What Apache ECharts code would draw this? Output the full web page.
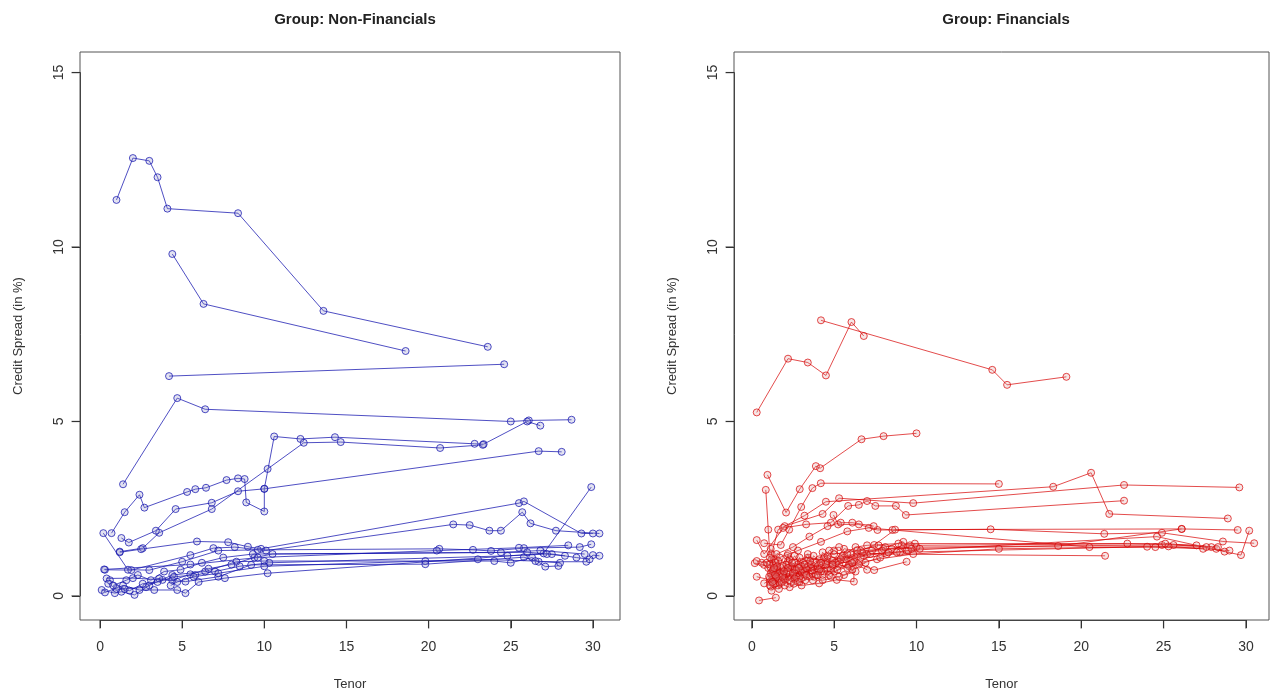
<!DOCTYPE html>
<html>
<head>
<meta charset="utf-8">
<script src="https://cdn.jsdelivr.net/npm/echarts@6/dist/echarts.min.js"></script>
<style>
  html, body { margin: 0; padding: 0; background: #fff; }
  #chart { width: 1270px; height: 692px; }
</style>
</head>
<body>
<div id="chart"></div>
<script>
// tick labels
var tenorTicks = [0, 5, 10, 15, 20, 25, 30];
var spreadTicks = [0, 5, 10, 15];

// Non-Financials, each bond curve as [tenor, spread]
var nf1 = [[1.0,11.35],[2.0,12.55],[3.0,12.47],[3.5,12.0],[4.1,11.1],[8.4,10.97],[13.6,8.17],[23.6,7.14]];
var nf2 = [[4.4,9.8],[6.3,8.37],[18.6,7.02]];
var nf3 = [[4.2,6.3],[24.6,6.64]];
var nf4 = [[1.4,3.2],[4.7,5.67],[6.4,5.35],[25.0,5.0],[26.1,5.03],[28.7,5.05]];
var nf5 = [[0.7,1.8],[1.5,2.4],[2.4,2.9],[2.7,2.53],[5.3,2.98],[5.8,3.06],[6.45,3.1],[7.7,3.32],[8.4,3.37],[8.8,3.35],[8.9,2.68],[10.0,2.42],[10.0,3.07],[10.6,4.57],[12.2,4.5],[14.3,4.55],[22.8,4.36],[23.35,4.35],[26.0,5.0],[26.8,4.88]];
var nf6 = [[1.2,1.27],[2.6,1.37],[3.6,1.81],[6.8,2.49],[10.2,3.64],[12.4,4.39],[14.65,4.41],[20.7,4.24],[23.3,4.33]];
var nf7 = [[1.3,1.66],[1.75,1.53],[3.4,1.87],[4.6,2.49],[6.8,2.67],[8.4,3.0],[10.0,3.07],[26.7,4.15],[28.1,4.13]];
var nf8 = [[1.2,1.25],[2.5,1.34],[5.9,1.56],[7.8,1.54],[9.0,1.41],[9.8,1.35],[25.5,2.66],[25.8,2.71],[29.3,1.79],[30.0,1.79]];
var nf9 = [[0.3,0.75],[1.9,0.74],[5.5,1.17],[6.9,1.37],[8.2,1.4],[10.1,1.3],[21.5,2.05],[22.5,2.03],[23.7,1.87],[24.4,1.87],[25.7,2.4],[26.2,2.08],[27.75,1.87],[30.4,1.79]];
var nf10 = [[0.2,1.8],[1.7,0.75],[3.0,0.74],[5.0,0.98],[7.2,1.3],[9.6,1.32],[20.65,1.35],[22.7,1.32],[23.8,1.29],[25.8,1.37],[29.2,1.4],[29.9,1.48]];
var nf11 = [[0.1,0.17],[0.9,0.08],[1.3,0.12],[2.1,0.03],[3.0,0.3],[4.4,0.6],[6.4,0.7],[8.3,0.98],[10.0,1.0],[19.8,1.0],[24.0,1.0],[25.0,0.95],[26.3,1.1],[27.1,0.84],[27.9,0.86]];
var nf12 = [[0.4,0.5],[2.0,0.51],[3.8,0.46],[5.2,0.41],[7.2,0.55],[9.2,0.89],[19.8,0.91],[25.8,1.11],[26.7,0.98],[29.6,0.98],[30.0,1.17],[30.4,1.15]];
var nf13 = [[0.3,0.1],[1.4,0.3],[2.4,0.17],[3.3,0.17],[4.7,0.17],[5.2,0.08],[6.0,0.4],[7.6,0.51],[10.2,0.65],[27.0,1.22],[29.9,3.12]];
var nf14 = [[0.6,0.45],[1.5,0.2],[2.8,0.25],[3.6,0.5],[4.4,0.45],[5.5,0.62],[6.6,0.78],[8.0,0.9],[9.4,1.1],[10.5,1.2],[26.0,1.25],[27.5,1.2],[29.0,1.1],[29.8,1.05]];
var nf15 = [[0.25,0.76],[5.5,0.9],[9.6,1.1],[20.5,1.3],[25.5,1.38],[28.5,1.45]];
var nf16 = [[0.5,0.35],[1.0,0.2],[1.8,0.15],[2.6,0.35],[3.5,0.4],[4.5,0.55],[5.8,0.6],[7.0,0.7],[8.5,0.85],[10.3,0.95],[24.8,1.15],[27.2,1.2],[28.3,1.15]];
var nf17 = [[4.3,0.3],[4.7,0.4],[5.7,0.55],[7.2,0.65],[10.0,0.85],[23.0,1.05],[26.5,1.0],[28.0,0.95]];
var nf18 = [[0.8,0.3],[1.6,0.45],[2.3,0.6],[3.1,0.45],[3.9,0.7],[4.9,0.75],[6.2,0.95],[7.5,1.1],[9.3,1.2],[24.4,1.25],[26.8,1.3],[29.5,1.2]];

// Financials
var fi1 = [[0.3,5.26],[2.2,6.8],[3.4,6.69],[4.5,6.32],[6.05,7.85],[6.8,7.45]];
var fi2 = [[4.2,7.9],[14.6,6.48],[15.5,6.05],[19.1,6.28]];
var fi3 = [[0.95,3.47],[2.08,2.39],[2.91,3.06],[3.89,3.72],[4.15,3.66],[6.66,4.49],[8.0,4.58],[10.0,4.66]];
var fi4 = [[0.75,1.51],[1.76,1.46],[2.27,1.9],[3.0,2.55],[3.68,3.09],[4.19,3.23],[15.0,3.21]];
var fi5 = [[0.85,3.04],[1.0,1.9],[1.15,0.8],[1.6,0.7],[2.2,0.55],[3.0,0.7],[4.3,0.6]];
var fi6 = [[1.2,1.2],[1.6,1.9],[3.2,2.3],[4.5,2.7],[18.3,3.13],[20.6,3.53],[21.7,2.35],[28.9,2.22]];
var fi7 = [[0.3,1.6],[0.75,1.2],[2.0,2.0],[4.3,2.35],[5.3,2.8],[9.8,2.66],[22.6,3.18],[29.6,3.11]];
var fi8 = [[1.9,1.95],[3.3,2.05],[4.8,2.1],[5.85,2.58],[6.5,2.61],[7.0,2.72],[7.5,2.58],[8.75,2.58],[9.35,2.32],[22.6,2.73]];
var fi9 = [[4.96,2.32],[5.24,2.05],[6.5,2.05],[7.63,1.89],[8.54,1.89],[14.5,1.91],[21.4,1.78],[24.9,1.81],[28.6,1.56],[30.5,1.51]];
var fi10 = [[0.18,0.94],[0.75,0.89],[1.3,0.6],[2.5,0.8],[4.1,0.9],[5.2,1.0],[7.43,1.46],[8.7,1.9],[26.1,1.92],[29.5,1.89]];
var fi11 = [[0.3,0.55],[1.2,0.45],[3.0,0.7],[4.9,0.85],[6.8,1.15],[9.4,1.3],[24.6,1.7],[29.7,1.17],[30.2,1.87]];
var fi12 = [[0.75,0.36],[1.3,0.5],[2.5,0.6],[3.8,0.75],[6.0,1.0],[8.2,1.2],[21.45,1.15]];
var fi13 = [[0.44,-0.13],[1.46,-0.05]];
var fi14 = [[1.15,0.27],[2.0,0.5],[3.02,0.3],[4.09,0.36],[5.16,0.46],[6.2,0.41],[6.2,0.98],[7.43,0.74],[9.4,0.98]];
var fi15 = [[1.2,0.6],[1.8,0.8],[2.8,0.9],[3.6,0.8],[4.5,0.95],[5.6,1.1],[7.0,1.2],[9.0,1.25],[24.0,1.41],[24.5,1.4],[27.4,1.35]];
var fi16 = [[1.3,0.9],[2.2,1.0],[3.4,1.1],[4.6,1.0],[6.4,1.2],[8.0,1.35],[10.0,1.4],[24.9,1.46],[25.6,1.46],[27.9,1.4],[28.2,1.35],[28.7,1.27]];
var fi17 = [[1.1,0.4],[1.6,0.5],[2.4,0.85],[3.3,1.0],[5.0,1.2],[6.6,1.3],[8.5,1.35],[18.6,1.43],[26.1,1.92]];
var fi18 = [[1.25,0.7],[2.6,0.75],[4.6,0.8],[5.9,0.9],[7.6,1.05],[9.8,1.2],[15.0,1.35],[25.3,1.42],[29.0,1.3]];
var fi19 = [[0.6,0.95],[1.4,1.05],[2.8,1.3],[4.2,1.55],[5.8,1.85],[7.1,1.95],[20.5,1.4],[27.6,1.4]];
var fi20 = [[1.6,0.3],[2.1,0.65],[2.9,0.55],[3.7,0.65],[4.8,0.75],[5.6,0.6],[6.9,0.95]];
var fi21 = [[1.0,0.8],[1.5,1.2],[2.5,1.4],[3.5,1.7],[4.6,2.0],[5.4,2.1],[6.1,2.1],[7.4,2.0]];
var fi22 = [[1.1,0.5],[1.4,0.35],[2.0,0.45],[2.7,0.55],[3.2,0.6],[4.4,0.7],[5.0,0.7],[5.9,0.85],[6.5,0.9],[7.8,1.1],[8.8,1.25],[9.5,1.3],[10.2,1.35]];
var fi23 = [[1.2,0.15],[1.7,0.35],[2.3,0.25],[2.9,0.4],[3.8,0.55],[4.3,0.45],[5.3,0.55],[6.3,0.7]];
var fi24 = [[0.3,1.0],[0.9,0.95],[1.5,0.75],[2.2,0.7],[3.4,0.85],[4.5,0.9],[5.7,1.05],[7.2,1.2],[8.3,1.25],[9.1,1.45],[9.9,1.5]];
var fi25 = [[1.3,0.35],[1.9,0.6],[2.4,0.4],[3.1,0.75],[3.5,0.55],[4.0,0.85],[4.7,0.6],[5.3,0.9],[6.1,0.75]];
var fi26 = [[1.1,0.9],[1.7,0.65],[2.6,0.95],[3.3,0.8],[4.1,1.05],[5.1,0.95],[6.7,1.25],[7.9,1.3],[9.6,1.45],[25.1,1.5],[28.3,1.4]];
var fi27 = [[1.2,1.05],[1.5,0.55],[1.9,0.85],[2.3,0.45],[2.7,0.75],[3.0,0.5],[3.6,0.9],[4.2,0.7],[4.9,1.0],[5.8,0.8],[6.6,1.1],[7.3,1.3],[8.1,1.4],[9.2,1.55]];
var fi28 = [[1.15,0.65],[1.45,0.95],[1.8,0.4],[2.1,0.9],[2.5,0.65],[2.9,1.1],[3.3,0.6],[3.9,0.95],[4.4,1.1],[5.0,1.3],[5.5,1.15],[6.3,1.4],[7.0,1.45],[8.9,1.5],[22.8,1.5],[27.0,1.45]];
var fi29 = [[1.1,0.3],[1.3,0.75],[1.6,1.0],[2.0,0.3],[2.3,1.05],[2.6,0.5],[3.1,0.95],[3.7,0.45],[4.1,0.75],[4.8,0.55],[5.2,0.75],[6.1,0.95],[7.0,0.75]];
var fi30 = [[1.15,1.35],[1.4,0.6],[1.7,1.1],[2.2,0.8],[2.6,1.15],[3.0,0.85],[3.4,1.2],[3.9,0.6],[4.3,1.25],[4.9,0.9],[5.6,1.35],[6.4,1.3],[7.7,1.45],[9.7,1.35]];
var fi31 = [[1.05,0.55],[1.25,0.4],[1.55,0.85],[1.85,0.55],[2.15,1.15],[2.45,0.95],[2.8,0.4],[3.2,0.9],[3.55,1.0],[4.0,0.6],[4.6,1.15],[5.4,1.05],[6.0,1.2]];
var fi32 = [[1.1,1.1],[1.35,0.8],[1.65,0.2],[1.95,0.7],[2.2,1.2],[2.55,0.35],[2.85,0.8],[3.25,0.45],[3.75,1.15],[4.2,0.95],[4.7,1.3],[5.3,1.4],[5.8,1.2]];

var nonFin = [nf1, nf2, nf3, nf4, nf5, nf6, nf7, nf8, nf9, nf10, nf11, nf12, nf13, nf14, nf15, nf16, nf17, nf18];
var fin = [fi1, fi2, fi3, fi4, fi5, fi6, fi7, fi8, fi9, fi10, fi11, fi12, fi13, fi14, fi15, fi16, fi17, fi18, fi19, fi20,
           fi21, fi22, fi23, fi24, fi25, fi26, fi27, fi28, fi29, fi30, fi31, fi32];

var FONT = '"Liberation Sans", Arial, sans-serif';
var Y_MIN = -0.69, Y_MAX = 15.59;
var TENOR_MAX = tenorTicks[tenorTicks.length - 1];
var SPREAD_MAX = spreadTicks[spreadTicks.length - 1];

// plot boxes (R style, range padded 4%)
var panels = [
  { left: 80, top: 52, width: 540, height: 568, xmin: -1.22, xmax: 31.65 },
  { left: 734, top: 52, width: 535, height: 568, xmin: -1.08, xmax: 31.4 }
];

var grids = [], xAxes = [], yAxes = [], tickSeries = [];

// data grids: box and axis names
panels.forEach(function(p, i) {
  grids.push({ left: p.left, top: p.top, width: p.width, height: p.height, show: true,
    borderColor: '#555', borderWidth: 1, backgroundColor: 'transparent', outerBoundsMode: 'none' });
  xAxes.push({
    gridIndex: i, type: 'value', min: p.xmin, max: p.xmax,
    name: 'Tenor', nameLocation: 'middle', nameGap: 58, nameMoveOverlap: false,
    nameTextStyle: { fontFamily: FONT, fontSize: 13, color: '#333' },
    axisLine: { show: false }, axisTick: { show: false }, axisLabel: { show: false }, splitLine: { show: false }
  });
  yAxes.push({
    gridIndex: i, type: 'value', min: Y_MIN, max: Y_MAX,
    name: 'Credit Spread (in %)', nameLocation: 'middle', nameGap: 55, nameMoveOverlap: false,
    nameTextStyle: { fontFamily: FONT, fontSize: 13, color: '#333' },
    axisLine: { show: false }, axisTick: { show: false }, axisLabel: { show: false }, splitLine: { show: false }
  });
});

// tick grids: span exactly 0..30 / 0..15 so ticks start at a multiple of the interval
panels.forEach(function(p) {
  var xs = p.width / (p.xmax - p.xmin);
  var ys = p.height / (Y_MAX - Y_MIN);
  // x ticks
  var gx = grids.length;
  grids.push({ left: p.left + (0 - p.xmin) * xs, width: TENOR_MAX * xs, top: p.top, height: p.height,
    show: false, outerBoundsMode: 'none' });
  xAxes.push({
    gridIndex: gx, type: 'value', min: 0, max: TENOR_MAX, interval: 5,
    axisLine: { show: true, onZero: false, lineStyle: { color: '#444' } },
    axisTick: { show: true, length: 8, lineStyle: { color: '#333', width: 1 } },
    axisLabel: { fontFamily: FONT, fontSize: 14, color: '#333', margin: 20 },
    splitLine: { show: false }
  });
  yAxes.push({ gridIndex: gx, type: 'value', min: 0, max: 1, show: false });
  tickSeries.push({
    type: 'scatter', xAxisIndex: gx, yAxisIndex: gx, clip: false, silent: true, z: 10,
    symbol: 'rect', symbolSize: [1.3, 8], symbolOffset: [0, 4.5],
    itemStyle: { color: '#333' },
    data: tenorTicks.map(function(t) { return [t, 0]; })
  });
  // y ticks
  var gy = grids.length;
  grids.push({ left: p.left, width: p.width, top: p.top + (Y_MAX - SPREAD_MAX) * ys, height: SPREAD_MAX * ys,
    show: false, outerBoundsMode: 'none' });
  xAxes.push({ gridIndex: gy, type: 'value', min: 0, max: 1, show: false });
  yAxes.push({
    gridIndex: gy, type: 'value', min: 0, max: SPREAD_MAX, interval: 5,
    axisLine: { show: true, onZero: false, lineStyle: { color: '#444' } },
    axisTick: { show: true, length: 8, lineStyle: { color: '#333', width: 1 } },
    axisLabel: { rotate: 90, fontFamily: FONT, fontSize: 14, color: '#333', margin: 14 },
    splitLine: { show: false }
  });
  tickSeries.push({
    type: 'scatter', xAxisIndex: gy, yAxisIndex: gy, clip: false, silent: true, z: 10,
    symbol: 'rect', symbolSize: [8, 1.3], symbolOffset: [-4.5, 0],
    itemStyle: { color: '#333' },
    data: spreadTicks.map(function(v) { return [0, v]; })
  });
});

function makeSeries(list, idx, lineColor, fillColor) {
  var out = [];
  for (var i = 0; i < list.length; i++) {
    out.push({
      type: 'line',
      xAxisIndex: idx,
      yAxisIndex: idx,
      data: list[i],
      symbol: 'circle',
      symbolSize: 7,
      showAllSymbol: true,
      lineStyle: { color: lineColor, width: 1 },
      itemStyle: { color: fillColor, borderColor: lineColor, borderWidth: 1 },
      emphasis: { disabled: true },
      silent: true,
      z: 2
    });
  }
  return out;
}

var chart = echarts.init(document.getElementById('chart'), null, { renderer: 'canvas' });

var option = {
  animation: false,
  backgroundColor: '#fff',
  title: [{
    text: 'Group: Non-Financials',
    left: 350,
    top: 7,
    textAlign: 'center',
    textStyle: { fontFamily: FONT, fontSize: 15, fontWeight: 'bold', color: '#222' }
  }, {
    text: 'Group: Financials',
    left: 1001,
    top: 7,
    textAlign: 'center',
    textStyle: { fontFamily: FONT, fontSize: 15, fontWeight: 'bold', color: '#222' }
  }],
  grid: grids,
  xAxis: xAxes,
  yAxis: yAxes,
  series: makeSeries(nonFin, 0, 'rgba(20,20,175,0.75)', 'rgba(140,140,200,0.25)')
    .concat(makeSeries(fin, 1, 'rgba(215,0,0,0.7)', 'rgba(220,150,150,0.25)'))
    .concat(tickSeries)
};

chart.setOption(option);
</script>
</body>
</html>
